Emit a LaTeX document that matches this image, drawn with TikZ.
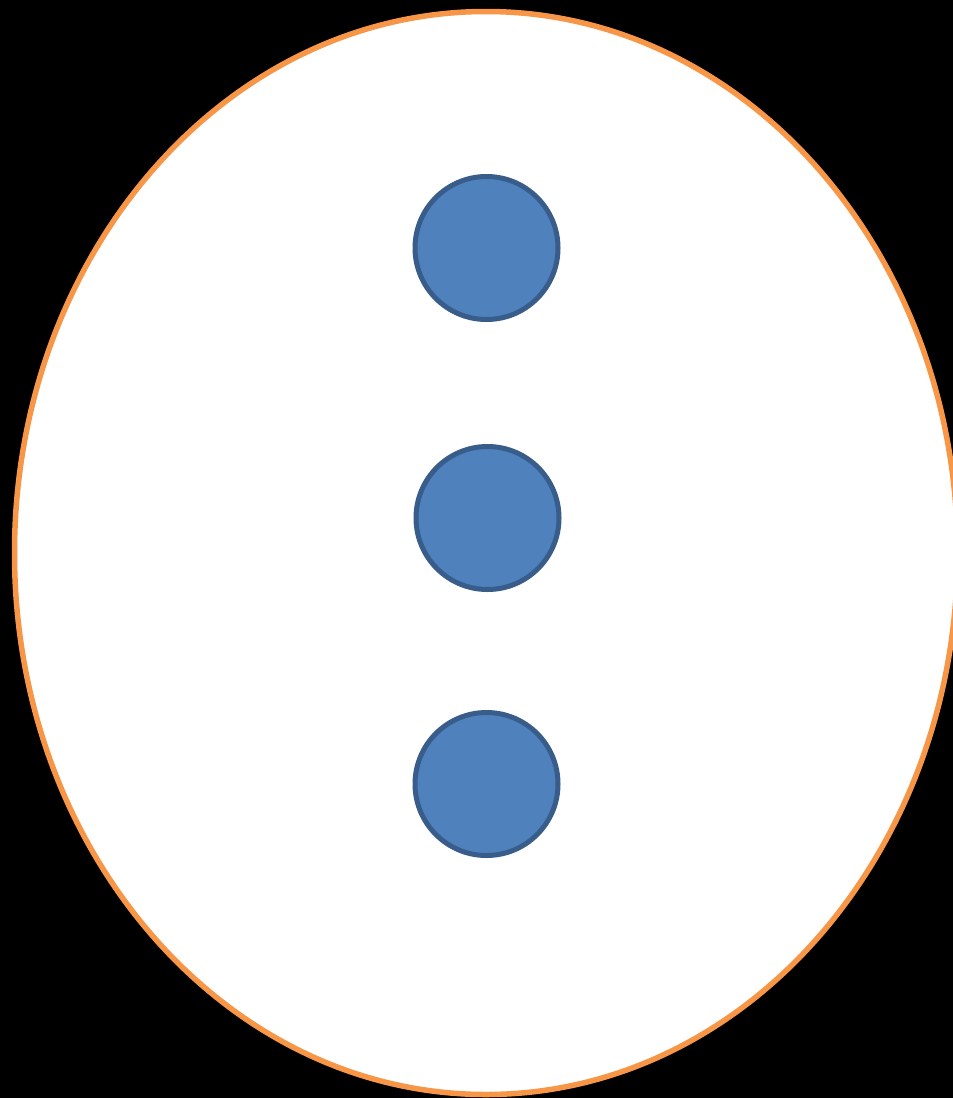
\documentclass[tikz,border=0pt]{standalone}
\definecolor{orangeline}{HTML}{F79646}
\definecolor{bluefill}{HTML}{4F81BD}
\definecolor{blueline}{HTML}{385D8A}
\begin{document}
\begin{tikzpicture}[x=1pt,y=-1pt,
  dot/.style={circle,draw=blueline,fill=bluefill,line width=5pt,minimum size=143pt,inner sep=0pt}]
\fill[black] (0,0) rectangle (953,1098);
\useasboundingbox (0,0) rectangle (953,1098);
\draw[draw=orangeline,fill=white,line width=5.5pt] (486,553) ellipse [x radius=471.5, y radius=541.5];
\node[dot] (c1) at (486.5,248) {};
\node[dot] (c2) at (487.5,518) {};
\node[dot] (c3) at (486.5,784) {};
\end{tikzpicture}
\end{document}
